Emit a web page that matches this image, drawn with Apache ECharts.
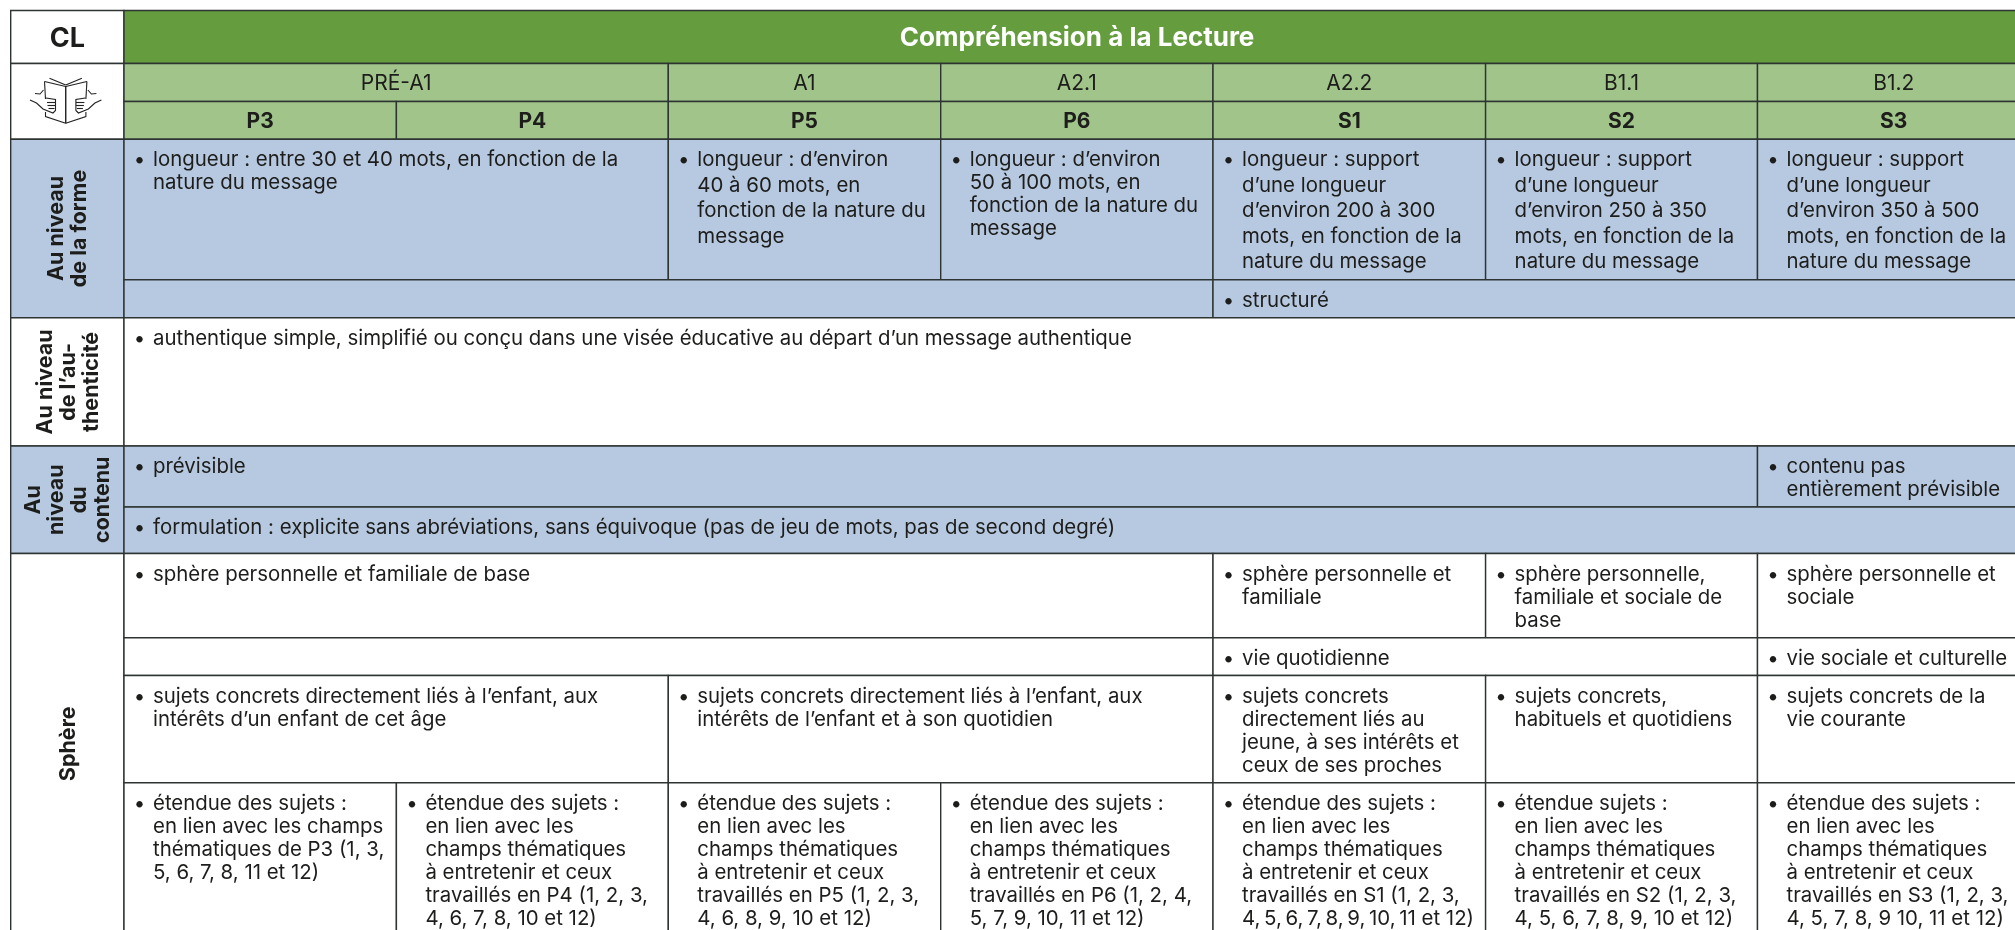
<!DOCTYPE html>
<html>
<head>
<meta charset="utf-8">
<title>Compréhension à la Lecture</title>
<style>
  html, body { margin: 0; padding: 0; background: #fff; }
  #chart { width: 2015px; height: 930px; }
</style>
<script src="https://cdn.jsdelivr.net/npm/echarts@6/dist/echarts.min.js"></script>
</head>
<body>
<div id="chart"></div>
<script>
// table content: [first column, end column, text], columns are 0 (labels) to 7 (S3)
const corner = 'CL';
const title = 'Compréhension à la Lecture';
const levels = [[1, 3, 'PRÉ-A1'], [3, 4, 'A1'], [4, 5, 'A2.1'], [5, 6, 'A2.2'], [6, 7, 'B1.1'], [7, 8, 'B1.2']];
const grades = ['P3', 'P4', 'P5', 'P6', 'S1', 'S2', 'S3'];
const sideLabels = [
  [3, 5, 'Au niveau\nde la forme'],
  [5, 6, 'Au niveau\nde l’au-\nthenticité'],
  [6, 8, 'Au\nniveau\ndu\ncontenu'],
  [8, 12, 'Sphère']
];
const longueurRow = [
  [1, 3, 'longueur : entre 30 et 40 mots, en fonction de la\nnature du message'],
  [3, 4, 'longueur : d’environ\n40 à 60 mots, en\nfonction de la nature du\nmessage'],
  [4, 5, 'longueur : d’environ\n50 à 100 mots, en\nfonction de la nature du\nmessage'],
  [5, 6, 'longueur : support\nd’une longueur\nd’environ 200 à 300\nmots, en fonction de la\nnature du message'],
  [6, 7, 'longueur : support\nd’une longueur\nd’environ 250 à 350\nmots, en fonction de la\nnature du message'],
  [7, 8, 'longueur : support\nd’une longueur\nd’environ 350 à 500\nmots, en fonction de la\nnature du message']
];
const structureRow = [[1, 5, ''], [5, 8, 'structuré']];
const authenticRow = [[1, 8, 'authentique simple, simplifié ou conçu dans une visée éducative au départ d’un message authentique']];
const contenuRow = [[1, 7, 'prévisible'], [7, 8, 'contenu pas\nentièrement prévisible']];
const formulationRow = [[1, 8, 'formulation : explicite sans abréviations, sans équivoque (pas de jeu de mots, pas de second degré)']];
const sphereRow = [
  [1, 5, 'sphère personnelle et familiale de base'],
  [5, 6, 'sphère personnelle et\nfamiliale'],
  [6, 7, 'sphère personnelle,\nfamiliale et sociale de\nbase'],
  [7, 8, 'sphère personnelle et\nsociale']
];
const vieRow = [[1, 5, ''], [5, 7, 'vie quotidienne'], [7, 8, 'vie sociale et culturelle']];
const sujetsRow = [
  [1, 3, 'sujets concrets directement liés à l’enfant, aux\nintérêts d’un enfant de cet âge'],
  [3, 5, 'sujets concrets directement liés à l’enfant, aux\nintérêts de l’enfant et à son quotidien'],
  [5, 6, 'sujets concrets\ndirectement liés au\njeune, à ses intérêts et\nceux de ses proches'],
  [6, 7, 'sujets concrets,\nhabituels et quotidiens'],
  [7, 8, 'sujets concrets de la\nvie courante']
];
const etendueRow = [
  [1, 2, 'étendue des sujets :\nen lien avec les champs\nthématiques de P3 (1, 3,\n5, 6, 7, 8, 11 et 12)'],
  [2, 3, 'étendue des sujets :\nen lien avec les\nchamps thématiques\nà entretenir et ceux\ntravaillés en P4 (1, 2, 3,\n4, 6, 7, 8, 10 et 12)'],
  [3, 4, 'étendue des sujets :\nen lien avec les\nchamps thématiques\nà entretenir et ceux\ntravaillés en P5 (1, 2, 3,\n4, 6, 8, 9, 10 et 12)'],
  [4, 5, 'étendue des sujets :\nen lien avec les\nchamps thématiques\nà entretenir et ceux\ntravaillés en P6 (1, 2, 4,\n5, 7, 9, 10, 11 et 12)'],
  [5, 6, 'étendue des sujets :\nen lien avec les\nchamps thématiques\nà entretenir et ceux\ntravaillés en S1 (1, 2, 3,\n4,\u20095,\u20096,\u20097,\u20098,\u20099,\u200910,\u200911 et 12)'],
  [6, 7, 'étendue sujets :\nen lien avec les\nchamps thématiques\nà entretenir et ceux\ntravaillés en S2 (1, 2, 3,\n4, 5, 6, 7, 8, 9, 10 et 12)'],
  [7, 8, 'étendue des sujets :\nen lien avec les\nchamps thématiques\nà entretenir et ceux\ntravaillés en S3 (1, 2, 3,\n4, 5, 7, 8, 9 10, 11 et 12)']
];

// layout, in pixels of the picture
const colEdges = [10.7, 124, 396.4, 668.3, 940.7, 1213, 1485.6, 1757.5, 2030];
const rowEdges = [10.5, 63.5, 101.5, 139.3, 279.8, 317.8, 446, 507, 553.5, 637.8, 675.5, 782.8, 934];
const GREEN = '#659d3e';
const LIGHT_GREEN = '#a1c48b';
const BLUE = '#b7c9e0';
const WHITE = '#ffffff';
const INK = '#1d1d1b';
const BORDER = '#2e3432';
const FONT = 'Inter';
const BODY_SIZE = 20.4;

const cells = [];
const addCell = (c0, c1, r0, r1, text, fill, kind) => cells.push({ c0, c1, r0, r1, text, fill, kind });
const addBody = (row, list, fill, pitch) => list.forEach(([c0, c1, text]) => {
  cells.push({ c0, c1, r0: row, r1: row + 1, text, fill, kind: 'body', pitch: (pitch && pitch(c0)) || 23 });
});

addCell(0, 1, 0, 1, corner, WHITE, 'corner');
addCell(1, 8, 0, 1, title, GREEN, 'title');
addCell(0, 1, 1, 3, '', WHITE, 'blank');
levels.forEach(([c0, c1, text]) => addCell(c0, c1, 1, 2, text, LIGHT_GREEN, 'level'));
grades.forEach((text, i) => addCell(i + 1, i + 2, 2, 3, text, LIGHT_GREEN, 'grade'));
const sideFills = [BLUE, WHITE, BLUE, WHITE];
sideLabels.forEach(([r0, r1, text], i) => addCell(0, 1, r0, r1, text, sideFills[i], 'side'));
addBody(3, longueurRow, BLUE, c0 => (c0 === 1 || c0 === 4 ? 23 : 25.5));
addBody(4, structureRow, BLUE);
addBody(5, authenticRow, WHITE);
addBody(6, contenuRow, BLUE);
addBody(7, formulationRow, BLUE);
addBody(8, sphereRow, WHITE);
addBody(9, vieRow, WHITE);
addBody(10, sujetsRow, WHITE);
addBody(11, etendueRow, WHITE);

function centredText(x, y, text, size, weight, fill) {
  return {
    type: 'text',
    style: { x, y, text, fill, font: weight + ' ' + size + 'px ' + FONT, align: 'center', verticalAlign: 'middle' }
  };
}

function renderCell(params, api) {
  const cell = cells[params.dataIndex];
  const p0 = api.coord([api.value(0), api.value(1)]);
  const p1 = api.coord([api.value(2), api.value(3)]);
  const cx = (p0[0] + p1[0]) / 2;
  const cy = (p0[1] + p1[1]) / 2;
  const children = [{
    type: 'rect',
    shape: { x: p0[0], y: p0[1], width: p1[0] - p0[0], height: p1[1] - p0[1] },
    style: { fill: cell.fill, stroke: BORDER, lineWidth: 1.4 }
  }];
  if (cell.kind === 'corner') children.push(centredText(cx, cy + 2, cell.text, 27, 700, INK));
  if (cell.kind === 'title') children.push(centredText(cx, cy + 1, cell.text, 26, 700, '#ffffff'));
  if (cell.kind === 'level') children.push(centredText(cx, cy + 1, cell.text, 21, 400, INK));
  if (cell.kind === 'grade') children.push(centredText(cx, cy + 1, cell.text, 21, 700, INK));
  if (cell.kind === 'side') {
    children.push({
      type: 'text',
      x: cx + 1,
      y: cy,
      rotation: Math.PI / 2,
      style: { x: 0, y: 0, text: cell.text, fill: INK, font: '700 21.5px ' + FONT, align: 'center', verticalAlign: 'middle', lineHeight: 23 }
    });
  }
  if (cell.kind === 'body' && cell.text) {
    const top = p0[1] + 21;
    children.push({
      type: 'text',
      style: { x: p0[0] + 15.5, y: top, text: '•', fill: INK, font: '400 ' + BODY_SIZE + 'px ' + FONT, align: 'center', verticalAlign: 'middle' }
    });
    cell.text.split('\n').forEach((line, i) => {
      children.push({
        type: 'text',
        style: { x: p0[0] + 29, y: top + i * cell.pitch, text: line, fill: INK, font: '400 ' + BODY_SIZE + 'px ' + FONT, align: 'left', verticalAlign: 'middle' }
      });
    });
  }
  return { type: 'group', children };
}

const SPINE = 65.7;
const halfBook = [
  [[65.7, 86], [65.7, 123.3]],
  [[44.5, 81.5], [65.7, 86.5]],
  [[49.5, 78.3], [65.7, 85]],
  [[44.5, 81.5], [45.5, 99]],
  [[45.5, 112], [45.5, 116.5], [65.7, 123.3]],
  [[30, 100], [36.5, 103], [43, 109], [53, 113], [55.5, 110.5], [55.5, 99.5], [46, 98]],
  [[47, 102.5], [55.5, 102.5]],
  [[47.5, 105.5], [55.5, 105.5]],
  [[48.5, 108.5], [54.5, 108.5]],
  [[35, 93.5], [40, 94], [43.5, 90]]
];
const mirror = pts => pts.map(([x, y]) => [2 * SPINE - x, y]);
const bookLines = halfBook.concat(halfBook.map(mirror));

const chart = echarts.init(document.getElementById('chart'));
chart.setOption({
  animation: false,
  backgroundColor: '#ffffff',
  grid: { left: 0, top: 0, width: 2015, height: 930 },
  xAxis: { type: 'value', min: 0, max: 2015, show: false },
  yAxis: { type: 'value', min: 0, max: 930, inverse: true, show: false },
  graphic: bookLines.map(points => ({
    type: 'polyline',
    z: 10,
    shape: { points },
    style: { fill: null, stroke: '#222222', lineWidth: 1.1 }
  })),
  series: [{
    type: 'custom',
    coordinateSystem: 'cartesian2d',
    clip: false,
    renderItem: renderCell,
    data: cells.map(c => [colEdges[c.c0], rowEdges[c.r0], colEdges[c.c1], rowEdges[c.r1]])
  }]
});
</script>
</body>
</html>
